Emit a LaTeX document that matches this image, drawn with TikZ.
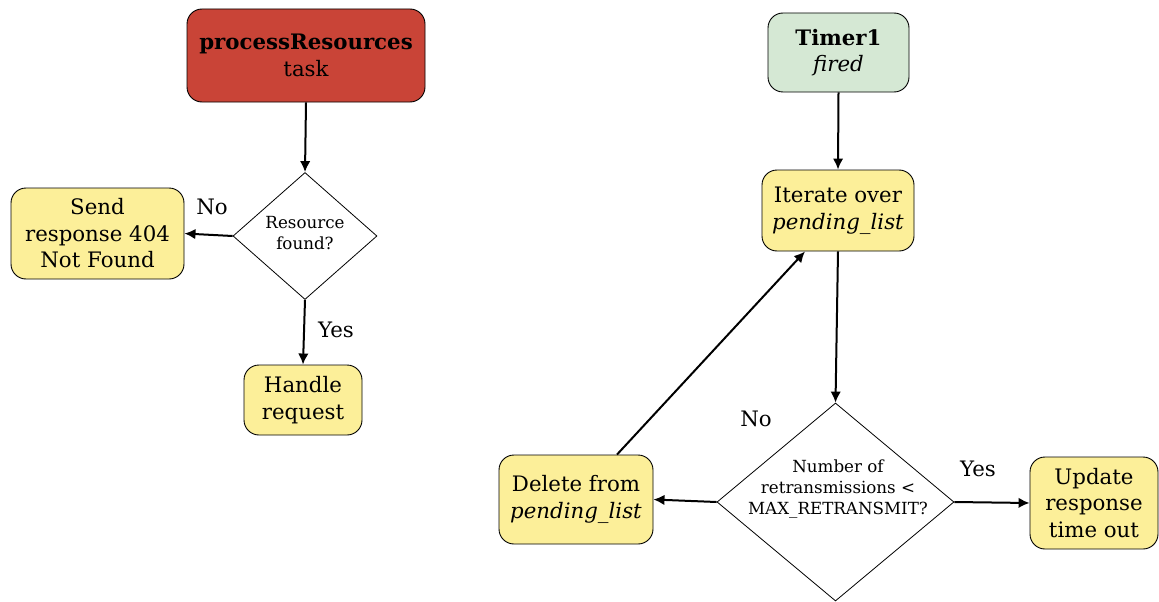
\documentclass[tikz,border=0pt]{standalone}
\usepackage{fontspec}
\setmainfont{DejaVu Serif}
\usetikzlibrary{shapes.geometric,arrows.meta}
\definecolor{redfill}{RGB}{201,68,55}
\definecolor{yelfill}{RGB}{252,239,153}
\definecolor{grnfill}{RGB}{213,232,212}
\tikzset{
  box/.style={draw=black, line width=0.9pt, rounded corners=15pt, align=center, inner sep=0pt,
    font=\fontsize{21.3}{26.5}\selectfont},
  ybox/.style={box, fill=yelfill},
  dia/.style={draw=black, line width=0.8pt, shape=diamond, inner sep=0pt, fill=white},
  smalltxt/.style={align=center, font=\fontsize{16.7}{21}\selectfont, inner sep=0pt},
  lbl/.style={font=\fontsize{21.3}{26}\selectfont, inner sep=0pt},
  arr/.style={line width=2pt, -{Latex[length=11pt,width=10.5pt]}}
}
\begin{document}
\begin{tikzpicture}[x=1pt,y=-1pt]
\useasboundingbox (0,0) rectangle (1159,602);
% left flow
\node[box, fill=redfill, minimum width=238pt, minimum height=93pt] (pr) at (306,55.5)
  {\textbf{processResources}\\task};
\node[dia, minimum width=144pt, minimum height=127pt] (d1) at (305,236) {};
\node[smalltxt] (d1t) at (305,233) {Resource\\found?};
\node[ybox, minimum width=173pt, minimum height=91pt] (send) at (97.5,233.5)
  {Send\\response 404\\Not Found};
\node[ybox, minimum width=118pt, minimum height=70pt] (handle) at (303,400)
  {Handle\\request};
\node[lbl] (no1) at (212,207) {No};
\node[lbl] (yes1) at (336,330) {Yes};
\draw[arr] (pr.south) -- (d1.north);
\draw[arr] (d1.west) -- (send.east);
\draw[arr] (d1.south) -- (handle.north);
% right flow
\node[box, fill=grnfill, minimum width=141pt, minimum height=79pt] (timer) at (838.5,52.5)
  {\textbf{Timer1}\\\textit{fired}};
\node[ybox, minimum width=152pt, minimum height=81pt] (it) at (838,210.5)
  {Iterate over\\\textit{pending\_list}};
\node[dia, minimum width=237pt, minimum height=198pt] (d2) at (835.5,502) {};
\node[smalltxt] (d2t) at (838,489) {Number of\\retransmissions <\\MAX\_RETRANSMIT?};
\node[ybox, minimum width=154pt, minimum height=89pt] (del) at (576,499.5)
  {Delete from\\\textit{pending\_list}};
\node[ybox, minimum width=128pt, minimum height=92pt] (upd) at (1094,503)
  {Update\\response\\time out};
\node[lbl] (no2) at (756,419) {No};
\node[lbl] (yes2) at (978,469) {Yes};
\draw[arr] (timer.south) -- (it.north);
\draw[arr] (it.south) -- (d2.north);
\draw[arr] (d2.west) -- (del.east);
\draw[arr] (d2.east) -- (upd.west);
\draw[arr] ([xshift=41pt]del.north) -- ([xshift=-33pt]it.south);
\end{tikzpicture}
\end{document}
